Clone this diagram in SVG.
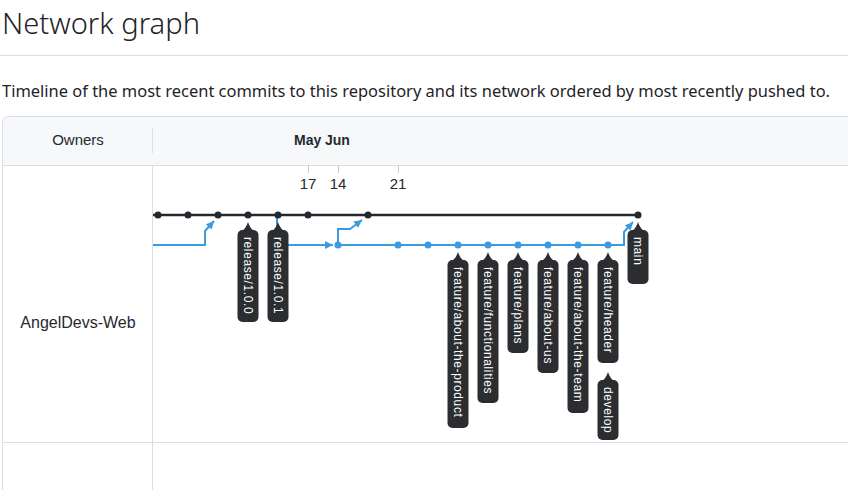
<svg xmlns="http://www.w3.org/2000/svg" xmlns:xlink="http://www.w3.org/1999/xlink" width="848" height="490" viewBox="0 0 848 490">
<style>
.title{font-family:"Noto Sans","Liberation Sans",sans-serif;font-size:29px;font-weight:300;fill:#1f2328}
.desc{font-family:"Noto Sans","Liberation Sans",sans-serif;font-size:16.5px;fill:#1f2328}
.hdr{font-family:"Liberation Sans",Arial,sans-serif;font-size:15px;fill:#24292f}
.owner{font-family:"Liberation Sans",Arial,sans-serif;font-size:16px;fill:#24292f}
.month{font-family:"Liberation Sans",Arial,sans-serif;font-size:14px;font-weight:bold;fill:#24292f}
.day{font-family:"Liberation Sans",Arial,sans-serif;font-size:15px;fill:#24292f;text-anchor:middle}
.grid{stroke:#d8dee4;stroke-width:1;fill:none}
.tick{stroke:#c8ccd0;stroke-width:1}
.master{stroke:#24292f;stroke-width:2.5;fill:none}
.branch{stroke:#3b9be0;stroke-width:2;fill:none}
.bdot{fill:#24292f}
.ldot{fill:#3b9be0}
.lbl{fill:#2b2d31}
.lt{font-family:"Liberation Sans",Arial,sans-serif;font-size:12px;letter-spacing:0.6px;fill:#ffffff;dominant-baseline:central}
</style>
<defs>
<marker id="arr" markerUnits="userSpaceOnUse" markerWidth="9" markerHeight="9" refX="8" refY="4" orient="auto">
<path d="M0,0 L8,4 L0,8 Z" fill="#3b9be0"/>
</marker>
<path id="tip" d="M0,0 C1,3 3,7 6,9 L-6,9 C-3,7 -1,3 0,0 Z"/>
</defs>

<text class="title" x="2" y="34" textLength="198" lengthAdjust="spacingAndGlyphs">Network graph</text>
<line class="grid" x1="0" y1="55.5" x2="848" y2="55.5"/>
<text class="desc" x="2" y="97" textLength="828" lengthAdjust="spacingAndGlyphs">Timeline of the most recent commits to this repository and its network ordered by most recently pushed to.</text>

<g id="panel">
<path d="M2.5,165 V122.5 A6,6 0 0 1 8.5,116.5 H848 V165 Z" fill="#f6f8fa"/>
<path class="grid" d="M2.5,490 V122.5 A6,6 0 0 1 8.5,116.5 H848" stroke="#d0d7de"/>
<line class="grid" x1="2" y1="165.5" x2="848" y2="165.5"/>
<line class="grid" x1="152.5" y1="128" x2="152.5" y2="153"/>
<line class="grid" x1="152.5" y1="166" x2="152.5" y2="490"/>
<line class="grid" x1="2" y1="442.5" x2="848" y2="442.5"/>
<text class="hdr" x="78" y="145" text-anchor="middle">Owners</text>
<text class="owner" x="78" y="328" text-anchor="middle">AngelDevs-Web</text>
<text class="month" x="294" y="145">May</text>
<text class="month" x="325" y="145">Jun</text>
<line class="tick" x1="308.5" y1="165" x2="308.5" y2="173"/>
<line class="tick" x1="338.5" y1="165" x2="338.5" y2="173"/>
<line class="tick" x1="398.5" y1="165" x2="398.5" y2="173"/>
<text class="day" x="308" y="189">17</text>
<text class="day" x="338" y="189">14</text>
<text class="day" x="398" y="189">21</text>
</g>

<g id="connectors">
<line class="master" x1="153" y1="215" x2="638" y2="215"/>
<path class="branch" d="M153,245 H205 V231 L214,221" marker-end="url(#arr)"/>
<path class="branch" d="M277,215 V245 H333" marker-end="url(#arr)"/>
<path class="branch" d="M338,245 V229 H350 L362,220" marker-end="url(#arr)"/>
<path class="branch" d="M338,245 H624 V232 L633,222" marker-end="url(#arr)"/>
</g>

<g id="commits-master">
<circle class="bdot" cx="158" cy="215" r="3.5"/>
<circle class="bdot" cx="188" cy="215" r="3.5"/>
<circle class="bdot" cx="218" cy="215" r="3.5"/>
<circle class="bdot" cx="248" cy="215" r="3.5"/>
<circle class="bdot" cx="278" cy="215" r="3.5"/>
<circle class="bdot" cx="308" cy="215" r="3.5"/>
<circle class="bdot" cx="368" cy="215" r="3.5"/>
<circle class="bdot" cx="638" cy="215" r="3.5"/>
</g>
<g id="commits-branch">
<circle class="ldot" cx="338" cy="245" r="3.5"/>
<circle class="ldot" cx="398" cy="245" r="3.5"/>
<circle class="ldot" cx="428" cy="245" r="3.5"/>
<circle class="ldot" cx="458" cy="245" r="3.5"/>
<circle class="ldot" cx="488" cy="245" r="3.5"/>
<circle class="ldot" cx="518" cy="245" r="3.5"/>
<circle class="ldot" cx="548" cy="245" r="3.5"/>
<circle class="ldot" cx="578" cy="245" r="3.5"/>
<circle class="ldot" cx="608" cy="245" r="3.5"/>
</g>

<g id="label-release-1-0-0">
<use href="#tip" xlink:href="#tip" x="248" y="222" class="lbl"/>
<rect class="lbl" x="237.5" y="230" width="21" height="92" rx="5"/>
<text class="lt" transform="translate(248,237) rotate(90)">release/1.0.0</text>
</g>
<g id="label-release-1-0-1">
<use href="#tip" xlink:href="#tip" x="278" y="222" class="lbl"/>
<rect class="lbl" x="267.5" y="230" width="21" height="92" rx="5"/>
<text class="lt" transform="translate(278,237) rotate(90)">release/1.0.1</text>
</g>
<g id="label-main">
<use href="#tip" xlink:href="#tip" x="638" y="222" class="lbl"/>
<rect class="lbl" x="627.5" y="230" width="21" height="54" rx="5"/>
<text class="lt" transform="translate(638,237) rotate(90)">main</text>
</g>
<g id="label-feature-about-the-product">
<use href="#tip" xlink:href="#tip" x="458" y="252" class="lbl"/>
<rect class="lbl" x="447.5" y="260" width="21" height="168" rx="5"/>
<text class="lt" transform="translate(458,267) rotate(90)">feature/about-the-product</text>
</g>
<g id="label-feature-functionalities">
<use href="#tip" xlink:href="#tip" x="488" y="252" class="lbl"/>
<rect class="lbl" x="477.5" y="260" width="21" height="143" rx="5"/>
<text class="lt" transform="translate(488,267) rotate(90)">feature/functionalities</text>
</g>
<g id="label-feature-plans">
<use href="#tip" xlink:href="#tip" x="518" y="252" class="lbl"/>
<rect class="lbl" x="507.5" y="260" width="21" height="93" rx="5"/>
<text class="lt" transform="translate(518,267) rotate(90)">feature/plans</text>
</g>
<g id="label-feature-about-us">
<use href="#tip" xlink:href="#tip" x="548" y="252" class="lbl"/>
<rect class="lbl" x="537.5" y="260" width="21" height="113" rx="5"/>
<text class="lt" transform="translate(548,267) rotate(90)">feature/about-us</text>
</g>
<g id="label-feature-about-the-team">
<use href="#tip" xlink:href="#tip" x="578" y="252" class="lbl"/>
<rect class="lbl" x="567.5" y="260" width="21" height="153" rx="5"/>
<text class="lt" transform="translate(578,267) rotate(90)">feature/about-the-team</text>
</g>
<g id="label-feature-header">
<use href="#tip" xlink:href="#tip" x="608" y="252" class="lbl"/>
<rect class="lbl" x="597.5" y="260" width="21" height="103" rx="5"/>
<text class="lt" transform="translate(608,267) rotate(90)">feature/header</text>
</g>
<g id="label-develop">
<use href="#tip" xlink:href="#tip" x="608" y="372" class="lbl"/>
<rect class="lbl" x="597.5" y="380" width="21" height="60" rx="5"/>
<text class="lt" transform="translate(608,387) rotate(90)">develop</text>
</g>
</svg>
